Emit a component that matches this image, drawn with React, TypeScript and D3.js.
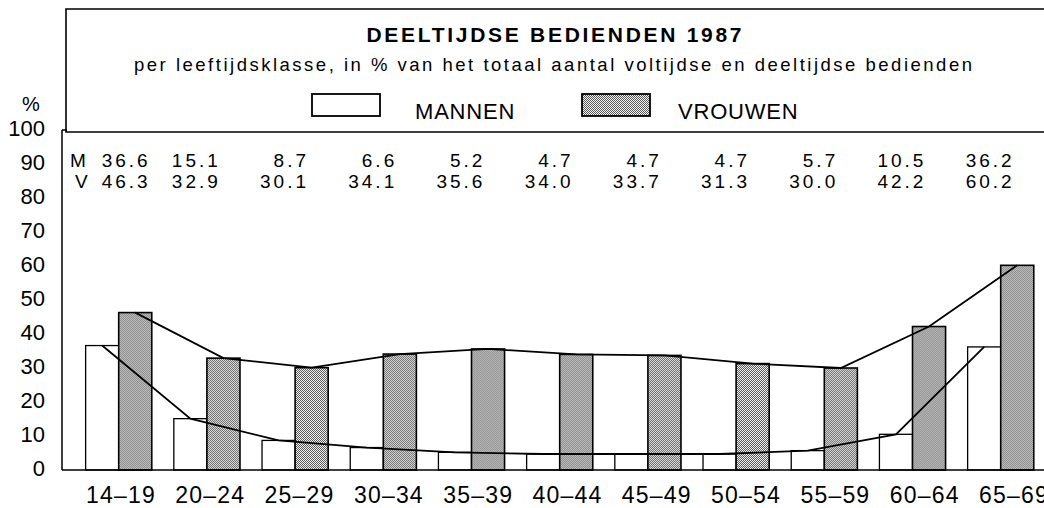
import React from "react";
import * as d3 from "d3";

// deeltijdse bedienden 1987, % per leeftijdsklasse
const categories = ["14–19", "20–24", "25–29", "30–34", "35–39", "40–44", "45–49", "50–54", "55–59", "60–64", "65–69"];
const mannen = [36.6, 15.1, 8.7, 6.6, 5.2, 4.7, 4.7, 4.7, 5.7, 10.5, 36.2];
const vrouwen = [46.3, 32.9, 30.1, 34.1, 35.6, 34.0, 33.7, 31.3, 30.0, 42.2, 60.2];
const seriesKeys = ["M", "V"];
const yTicks = [0, 10, 20, 30, 40, 50, 60, 70, 80, 90, 100];

const W = 1044;
const H = 508;
const font = "'Liberation Sans', Arial, Helvetica, sans-serif";

const App = () => {
  const x = d3
    .scaleBand<string>()
    .domain(categories)
    .range([74.6, 1044.8])
    .paddingInner(0.25)
    .paddingOuter(0.125);

  const sub = d3.scaleBand<string>().domain(seriesKeys).range([0, x.bandwidth()]);

  const y = d3.scaleLinear().domain([0, 100]).range([470, 130]);

  // x labels sit on a slightly wider spacing than the bars
  const xLabel = d3.scalePoint<string>().domain(categories).range([121, 1014]);

  const cx = (key: string) => (d: number, i: number) =>
    (x(categories[i]) as number) + (sub(key) as number) + sub.bandwidth() / 2;

  const lineM = d3.line<number>().x(cx("M")).y(d => y(d));
  const lineV = d3.line<number>().x(cx("V")).y(d => y(d));

  // right edge of the value columns
  const valX = (i: number) => (x(categories[i]) as number) + (i === 0 ? 62 : 44) + 3;

  return (
    <svg
      width={W}
      height={H}
      style={{ position: "absolute", left: 0, top: 0, background: "#fff" }}
      fontFamily={font}
    >
      <defs>
        <pattern id="stip" width={2} height={2} patternUnits="userSpaceOnUse">
          <rect width={2} height={2} fill="#f6f6f6" />
          <rect x={0} y={0} width={1} height={1} fill="#555" />
          <rect x={1} y={1} width={1} height={1} fill="#555" />
        </pattern>
      </defs>

      {/* kader met titel en legende */}
      <path d="M1050,9 H66 V132 H1050" fill="none" stroke="#000" strokeWidth={1.6} />
      <text x={554} y={42} textAnchor="middle" fontSize={21} fontWeight="bold" textLength={375} lengthAdjust="spacing">
        DEELTIJDSE BEDIENDEN 1987
      </text>
      <text x={553} y={71} textAnchor="middle" fontSize={18.5} textLength={838} lengthAdjust="spacing">
        per leeftijdsklasse, in % van het totaal aantal voltijdse en deeltijdse bedienden
      </text>
      <rect x={312} y={94} width={68} height={22} fill="#fff" stroke="#000" strokeWidth={1.8} />
      <text x={415} y={119} fontSize={22} letterSpacing={0.8}>
        MANNEN
      </text>
      <rect x={582} y={94} width={68} height={22} fill="url(#stip)" stroke="#000" strokeWidth={1.8} />
      <text x={678} y={119} fontSize={22} letterSpacing={0.8}>
        VROUWEN
      </text>

      {/* y-as */}
      <text x={22} y={111} fontSize={20}>
        %
      </text>
      {yTicks.map(t => (
        <text key={t} x={45} y={y(t) + 6} textAnchor="end" fontSize={22}>
          {t}
        </text>
      ))}
      <line x1={62} x2={62} y1={y(100)} y2={y(0)} stroke="#000" strokeWidth={1.5} />
      <line x1={62} x2={67} y1={y(100)} y2={y(100)} stroke="#000" strokeWidth={1.5} />

      {/* waarden bovenaan */}
      <text x={70} y={167} fontSize={19}>M</text>
      <text x={75} y={188} fontSize={19}>V</text>
      {mannen.map((d, i) => (
        <text key={"m" + i} x={valX(i)} y={167} textAnchor="end" fontSize={19} letterSpacing={3}>
          {d.toFixed(1)}
        </text>
      ))}
      {vrouwen.map((d, i) => (
        <text key={"v" + i} x={valX(i)} y={188} textAnchor="end" fontSize={19} letterSpacing={3}>
          {d.toFixed(1)}
        </text>
      ))}

      {/* staven */}
      {categories.map((c, i) => (
        <g key={c} transform={`translate(${x(c)},0)`}>
          <rect
            x={sub("M")}
            y={y(mannen[i])}
            width={sub.bandwidth()}
            height={y(0) - y(mannen[i])}
            fill="#fff"
            stroke="#000"
            strokeWidth={1.3}
          />
          <rect
            x={sub("V")}
            y={y(vrouwen[i])}
            width={sub.bandwidth()}
            height={y(0) - y(vrouwen[i])}
            fill="url(#stip)"
            stroke="#000"
            strokeWidth={1.6}
          />
        </g>
      ))}

      <path d={lineV(vrouwen) || ""} fill="none" stroke="#000" strokeWidth={1.8} />
      <path d={lineM(mannen) || ""} fill="none" stroke="#000" strokeWidth={1.8} />

      {/* x-as */}
      <line x1={62} x2={W} y1={y(0)} y2={y(0)} stroke="#000" strokeWidth={1.6} />
      {categories.map(c => (
        <text key={c} x={xLabel(c)} y={503} textAnchor="middle" fontSize={23} letterSpacing={1.2}>
          {c}
        </text>
      ))}
    </svg>
  );
};

export default App;
